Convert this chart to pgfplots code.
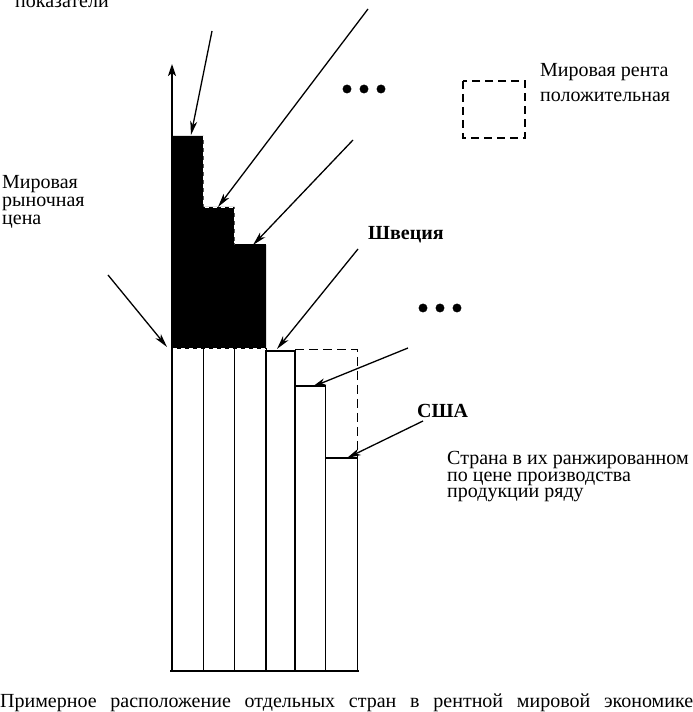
\documentclass[border=0pt]{standalone}
\usepackage{pgfplots}
\pgfplotsset{compat=1.18}
\usepackage{fontspec}
\setmainfont{Liberation Serif}
\usetikzlibrary{arrows.meta}
\newcommand\lab{\fontsize{20}{18.5}\selectfont}
\begin{document}
\begin{tikzpicture}
\begin{axis}[width=693pt,height=712pt,scale only axis,
  xmin=0,xmax=693,ymin=-41,ymax=671,hide axis,clip=false]
\coordinate (SW) at (axis cs:0,-41);
\coordinate (NE) at (axis cs:693,671);
% --- lower (white) parts of the bars
\addplot[draw=black,line width=0.9pt,fill=white] coordinates {(172,0)(172,322.5)(203.5,322.5)(203.5,0)} -- cycle;
\addplot[draw=black,line width=0.9pt,fill=white] coordinates {(203.5,0)(203.5,322.5)(234.5,322.5)(234.5,0)} -- cycle;
\addplot[draw=black,line width=0.9pt,fill=white] coordinates {(234.5,0)(234.5,322.5)(266,322.5)(266,0)} -- cycle;
\addplot[draw=black,line width=1.6pt,fill=white] coordinates {(266,0)(266,320)(295,320)(295,0)} -- cycle;
\addplot[draw=black,line width=1.6pt,fill=white] coordinates {(295,0)(295,285)(325.5,285)(325.5,0)} -- cycle;
\addplot[draw=black,line width=1.2pt,fill=white] coordinates {(325.5,0)(325.5,213)(357.5,213)(357.5,0)} -- cycle;
% --- rent above world price (black)
\addplot[draw=none,fill=black] coordinates {(172,322.5)(172,535)(203.5,535)(203.5,464)(234.5,464)(234.5,426)(266,426)(266,322.5)} -- cycle;
\addplot[draw=black,line width=1pt] coordinates {(234.5,426)(266,426)};
\addplot[draw=white,line width=0.8pt,dash pattern=on 4pt off 4pt] coordinates {(203.5,535)(203.5,464)(234.5,464)(234.5,428)};
\addplot[draw=white,line width=0.8pt,dash pattern=on 4pt off 4pt] coordinates {(173,322.5)(266,322.5)};
% --- dashed: positive world rent
\addplot[draw=black,line width=1.6pt,dash pattern=on 9pt off 5pt] coordinates {(295,321.5)(357.5,321.5)(357.5,213)};
% --- axes
\addplot[draw=black,line width=2pt] coordinates {(170,0)(358.5,0)};
\draw[line width=2pt,-{Stealth[length=12pt,width=8pt,inset=3pt]}] (axis cs:172,0) -- (axis cs:172,607);
% --- ellipsis dots
\addplot[only marks,mark=*,mark size=4.2pt,black] coordinates {(347,582)(364,582)(381,582)};
\addplot[only marks,mark=*,mark size=4.2pt,black] coordinates {(423,363)(440,363)(457,363)};
% --- arrows
\tikzset{arr/.style={line width=1.3pt,-{Stealth[length=14pt,width=7pt,inset=4pt]}}}
\draw[arr] (axis cs:212,640) -- (axis cs:191,536);
\draw[arr] (axis cs:368,662) -- (axis cs:218,464);
\draw[arr] (axis cs:353,531) -- (axis cs:253,426);
\draw[arr] (axis cs:108,396) -- (axis cs:167,324);
\draw[arr] (axis cs:358,422) -- (axis cs:277,322);
\draw[arr] (axis cs:408,323) -- (axis cs:312,284);
\draw[arr] (axis cs:423,250) -- (axis cs:347,213);
% --- legend box
\draw[line width=1.6pt,dash pattern=on 8pt off 5pt] (axis cs:463,590) rectangle (axis cs:525,533);
% --- texts
\node[anchor=base west,inner sep=0] at (axis cs:15,663) {\lab показатели};
\node[anchor=base west,inner sep=0] at (axis cs:2,482) {\lab Мировая};
\node[anchor=base west,inner sep=0] at (axis cs:2,464) {\lab рыночная};
\node[anchor=base west,inner sep=0] at (axis cs:2,446) {\lab цена};
\node[anchor=base west,inner sep=0] at (axis cs:368,431) {\lab\bfseries Швеция};
\node[anchor=base west,inner sep=0] at (axis cs:540,594) {\lab Мировая рента};
\node[anchor=base west,inner sep=0] at (axis cs:540,569) {\lab положительная};
\node[anchor=base west,inner sep=0] at (axis cs:417,253) {\lab\bfseries США};
\node[anchor=base west,inner sep=0] at (axis cs:447,206) {\lab Страна в их ранжированном};
\node[anchor=base west,inner sep=0] at (axis cs:447,189) {\lab по цене производства};
\node[anchor=base west,inner sep=0] at (axis cs:447,173) {\lab продукции ряду};
\node[anchor=base west,inner sep=0] at (axis cs:0,-36) {\lab\makebox[693pt][s]{Примерное расположение отдельных стран в рентной мировой экономике}};
\end{axis}
\pgfresetboundingbox
\path[use as bounding box] (SW) rectangle (NE);
\end{tikzpicture}
\end{document}
